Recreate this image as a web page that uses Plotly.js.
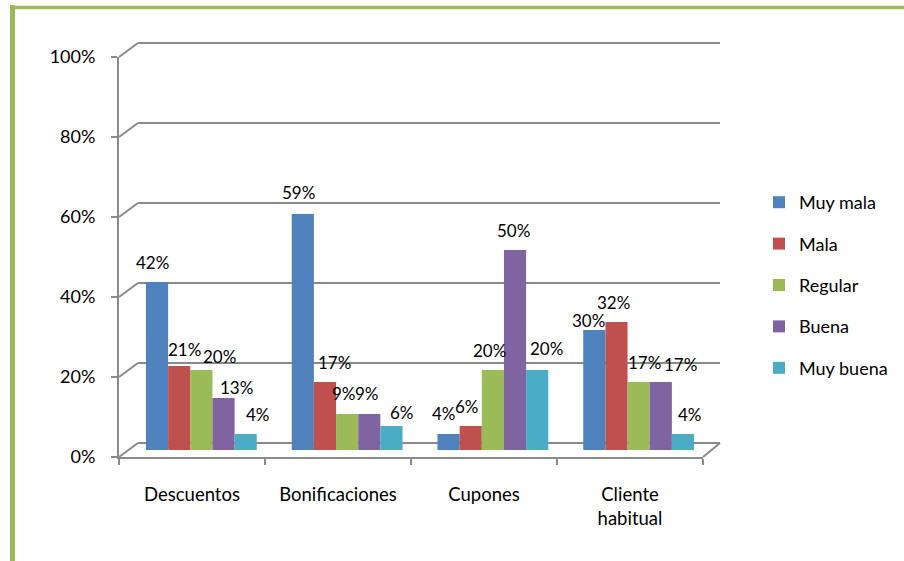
<!DOCTYPE html>
<html>
<head>
<meta charset="utf-8">
<script src="https://cdn.plot.ly/plotly-3.0.1.min.js"></script>
<style>html,body{margin:0;padding:0;background:#fff;}#chart{width:904px;height:561px;}</style>
</head>
<body>
<div id="chart"></div>
<script>
// ---- data ----
var categories = ["Descuentos", "Bonificaciones", "Cupones", "Cliente habitual"];
var categoryLabels = ["Descuentos", "Bonificaciones", "Cupones", "Cliente<br>habitual"];
var seriesNames = ["Muy mala", "Mala", "Regular", "Buena", "Muy buena"];
var muyMala  = [42, 59, 4, 30];
var mala     = [21, 17, 6, 32];
var regular  = [20, 9, 20, 17];
var buena    = [13, 9, 50, 17];
var muyBuena = [4, 6, 20, 4];
var yTickValues = [0, 20, 40, 60, 80, 100];

// ---- label placement (pixel nudges per category, per series, as Excel spread them) ----
var labelDx = [
  [-4, 5.5, 18, 12.5, 12],
  [-4.5, 9.5, -3.5, -2.5, 10],
  [-4, -3.5, -3.5, -2, 9.5],
  [-5.5, -2.5, 5.5, 20, 7]
];
var labelDy = [
  [19.5, 17, 14, 10.5, 19.5],
  [21, 19.5, 20.5, 20.5, 13.5],
  [20.5, 20, 20, 19, 21.5],
  [10, 19.5, 19.5, 18, 20]
];

var seriesValues = [muyMala, mala, regular, buena, muyBuena];
var colors = ["#4F81BD", "#C0504D", "#9BBB59", "#8064A2", "#4BACC6"];
var gridColor = "#8a8a8a";
var W = 904, H = 561;
function px(x) { return x / W; }
function py(y) { return (H - y) / H; }

var barSlotPx = 111 / 5;   // width of one bar in pixels inside a group
var depthPx = 7;           // half the 3D depth (back wall 7px above, front axis 7px below the bar plane)

var traces = [];
seriesNames.forEach(function (name, i) {
  traces.push({
    type: "bar", name: name, x: categories, y: seriesValues[i],
    xaxis: "x2", yaxis: "y2",
    marker: { color: colors[i] },
    legendgroup: "g" + i,
    hoverinfo: "skip"
  });
});
// invisible carrier so the front-axis subplot is built
traces.push({
  type: "bar", x: categories.map(function (c, i) { return i; }), y: muyMala,
  xaxis: "x3", yaxis: "y3", opacity: 0, showlegend: false, hoverinfo: "skip",
  marker: { color: "rgba(0,0,0,0)" }
});

var annotations = [];
seriesValues.forEach(function (vals, i) {
  vals.forEach(function (v, c) {
    annotations.push({
      xref: "x2", yref: "y2", x: categories[c], y: v,
      text: v + "%", showarrow: false,
      xanchor: "center", yanchor: "middle",
      xshift: (i - 2) * barSlotPx + labelDx[c][i],
      yshift: labelDy[c][i],
      font: { family: "Lato, sans-serif", size: 17, color: "#000" }
    });
  });
});

var shapes = [];
yTickValues.forEach(function (v) {
  shapes.push({
    type: "line", xref: "paper", yref: "y2",
    x0: px(138), x1: px(720),
    ysizemode: "pixel", yanchor: v, y0: depthPx, y1: depthPx,
    line: { color: gridColor, width: 2 }, layer: "below"
  });
  shapes.push({
    type: "line", xref: "paper", yref: "y2",
    x0: px(119), x1: px(138),
    ysizemode: "pixel", yanchor: v, y0: -depthPx, y1: depthPx,
    line: { color: gridColor, width: 2 }, layer: "below"
  });
});
shapes.push({
  type: "line", xref: "paper", yref: "y2",
  x0: px(703), x1: px(720),
  ysizemode: "pixel", yanchor: 0, y0: -depthPx, y1: depthPx,
  line: { color: gridColor, width: 2 }, layer: "below"
});
shapes.push({ type: "line", xref: "paper", yref: "paper", x0: px(12.5), x1: px(12.5), y0: py(5), y1: py(561), line: { color: "#9BBB59", width: 5 } });
shapes.push({ type: "line", xref: "paper", yref: "paper", x0: px(10), x1: px(904), y0: py(7.5), y1: py(7.5), line: { color: "#9BBB59", width: 3.5 } });

var hidden = { showgrid: false, zeroline: false, showline: false, showticklabels: false, ticks: "" };

var layout = {
  width: W, height: H,
  margin: { l: 0, r: 0, t: 0, b: 0 },
  paper_bgcolor: "#fff", plot_bgcolor: "rgba(0,0,0,0)",
  font: { family: "Lato, sans-serif", size: 18, color: "#000" },
  barmode: "group", bargap: 0.24, bargroupgap: 0,
  showlegend: true,
  legend: {
    x: px(759), y: py(184), xanchor: "left", yanchor: "top",
    font: { family: "Lato, sans-serif", size: 18, color: "#000" },
    tracegroupgap: 15, bgcolor: "rgba(0,0,0,0)"
  },
  // bars (range padded so the 3D frame drawn around it is not clipped)
  xaxis2: Object.assign({ domain: [px(118), px(722)], type: "category", categoryarray: categories,
                          range: [-0.5 - 10.5 / 146, 3.5 + 10.5 / 146], anchor: "y2" }, hidden),
  yaxis2: Object.assign({ domain: [py(462), py(34)], range: [-3, 104], anchor: "x2", type: "linear" }, hidden),
  // front axes
  xaxis3: { domain: [px(119), px(703)], range: [-0.5, 3.5], anchor: "y3", type: "linear",
            showline: true, linecolor: gridColor, linewidth: 2, showgrid: false, zeroline: false,
            tickmode: "array", tickvals: [0, 1, 2, 3], ticktext: categoryLabels, ticks: "",
            ticklabelstandoff: 20,
            minor: { tickmode: "array", tickvals: [-0.5, 0.5, 1.5, 2.5, 3.5], ticks: "outside", ticklen: 6, tickcolor: gridColor, tickwidth: 2, showgrid: false },
            tickfont: { family: "Lato, sans-serif", size: 18.5, color: "#000" } },
  yaxis3: { domain: [py(457), py(57)], range: [0, 100], anchor: "x3", type: "linear",
            showline: true, linecolor: gridColor, linewidth: 2, showgrid: false, zeroline: false,
            tickmode: "array", tickvals: yTickValues, ticktext: yTickValues.map(function (v) { return v + "%"; }),
            ticks: "outside", ticklen: 6, tickcolor: gridColor, tickwidth: 2,
            ticklabelstandoff: 12,
            tickfont: { family: "Lato, sans-serif", size: 18, color: "#000" } },
  shapes: shapes,
  annotations: annotations
};

Plotly.newPlot("chart", traces, layout, { staticPlot: true, displayModeBar: false });
</script>
</body>
</html>
